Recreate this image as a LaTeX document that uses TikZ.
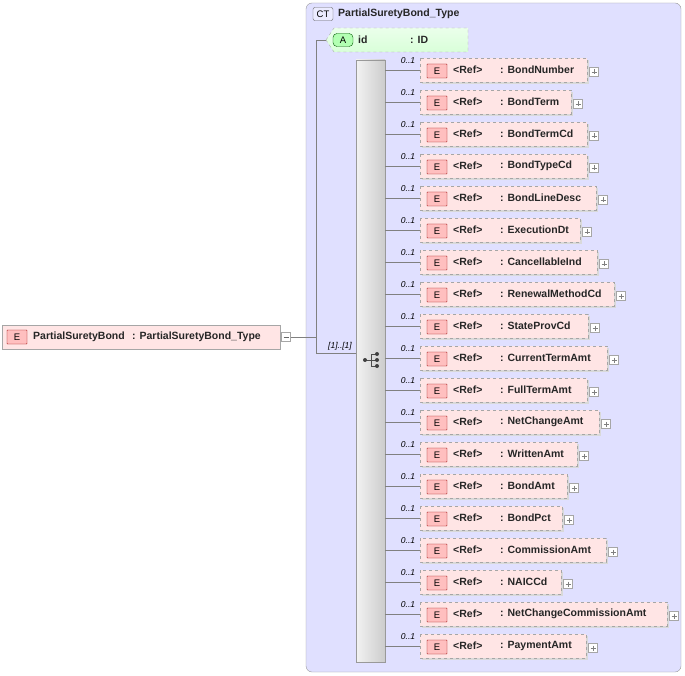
\documentclass[tikz,border=0pt]{standalone}
\usepackage{fontspec}
\setmainfont{Liberation Sans}
\begin{document}
\begin{tikzpicture}[x=1pt,y=-1pt,
  txt/.style={font=\fontsize{10.5}{12}\selectfont\bfseries,text=black!85,inner sep=0,anchor=west},
  occ/.style={font=\fontsize{8.5}{9}\selectfont\itshape,inner sep=0,anchor=south},
  ebox/.style={draw=black!35,dashed,fill=red!10},
  tag/.style={draw=red!60!black,fill=red!25,rounded corners=0.5,font=\fontsize{9.5}{10}\selectfont,inner sep=0,minimum width=20,minimum height=14},
  plus/.style={draw=black!35,fill=white,minimum size=9,inner sep=0},
  conn/.style={draw=black!50,line width=0.5}]
\useasboundingbox (0,0) rectangle (685,676);
% complex type box
\draw[black!40,fill=blue!12,rounded corners=6] (306,3) rectangle (681,672);
\node[draw=black!60,fill=blue!8,rounded corners=2,font=\fontsize{9.5}{10}\selectfont,inner sep=0,minimum width=20,minimum height=13] (ct) at (323,14) {CT};
\node[txt] (ctname) at (338,14) {PartialSuretyBond\_Type};
% attribute
\shade[top color=green!8,bottom color=green!15] (326,40) -- (334,28) -- (468,28) -- (468,52) -- (334,52) -- cycle;
\draw[black!35,dashed] (326,40) -- (334,28) -- (468,28) -- (468,52) -- (334,52) -- cycle;
\node[draw=green!35!black,fill=green!30,rounded corners=4,font=\fontsize{9.5}{10}\selectfont,inner sep=0,minimum width=20,minimum height=13] (atag) at (343,40) {A};
\node[txt] (aid) at (358,40) {id};
\node[txt] (atype) at (410,40) {: ID};
\coordinate (attr) at (326,40);
% sequence bar
\shade[left color=black!5,right color=black!20] (356,60) rectangle (385,662);
\draw[black!40] (356,60) rectangle (385,662);
% sequence icon
\draw[black!70,line width=0.8] (365,360) -- (371,360) (371,354) -- (371,366) (371,354) -- (377,354) (371,360) -- (377,360) (371,366) -- (377,366);
\fill[black!75] (365,360) circle[radius=2pt] (377,354) circle[radius=2pt] (377,360) circle[radius=2pt] (377,366) circle[radius=2pt];
\node[occ] (seqocc) at (340,350) {[1]..[1]};
% main element
\draw[black!35,fill=red!10] (2,325) rectangle (280,349);
\node[tag] (mtag) at (17,337) {E};
\node[txt] (mname) at (33,337) {PartialSuretyBond};
\node[txt] (mtype) at (132,337) {: PartialSuretyBond\_Type};
\node[plus] (minus) at (286,337) {};
\draw[black!60] (283.5,337) -- (288.5,337);
% connectors
\coordinate (j) at (316,337);
\draw[conn] (minus.east) -- (j);
\draw[conn] (j) |- (attr);
\draw[conn] (j) |- (356,353);
% children
\foreach \i/\n/\r in {0/BondNumber/587,1/BondTerm/571,2/BondTermCd/587,3/BondTypeCd/587,4/BondLineDesc/596,5/ExecutionDt/580,6/CancellableInd/597,7/RenewalMethodCd/614,8/StateProvCd/588,9/CurrentTermAmt/607,10/FullTermAmt/587,11/NetChangeAmt/599,12/WrittenAmt/577,13/BondAmt/567,14/BondPct/562,15/CommissionAmt/606,16/NAICCd/561,17/NetChangeCommissionAmt/667,18/PaymentAmt/586}{
  \pgfmathsetmacro\c{70+32*\i}
  \draw[fill=black!15,draw=none] (422,\c-10) rectangle (\r+2,\c+14);
  \draw[ebox] (420,\c-12) rectangle (\r,\c+12);
  \node[tag] (t\i) at (437,\c+1) {E};
  \node[txt] (ref\i) at (453,\c) {<Ref>};
  \node[txt] (n\i) at (500,\c) {: \n};
  \node[plus] (p\i) at (\r+7,\c+2) {};
  \draw[black!50] (\r+4.5,\c+2) -- (\r+9.5,\c+2) (\r+7,\c-0.5) -- (\r+7,\c+4.5);
  \draw[conn] (385,\c) -- (420,\c);
  \node[occ] (o\i) at (408,\c-6) {0..1};
}
\end{tikzpicture}
\end{document}
